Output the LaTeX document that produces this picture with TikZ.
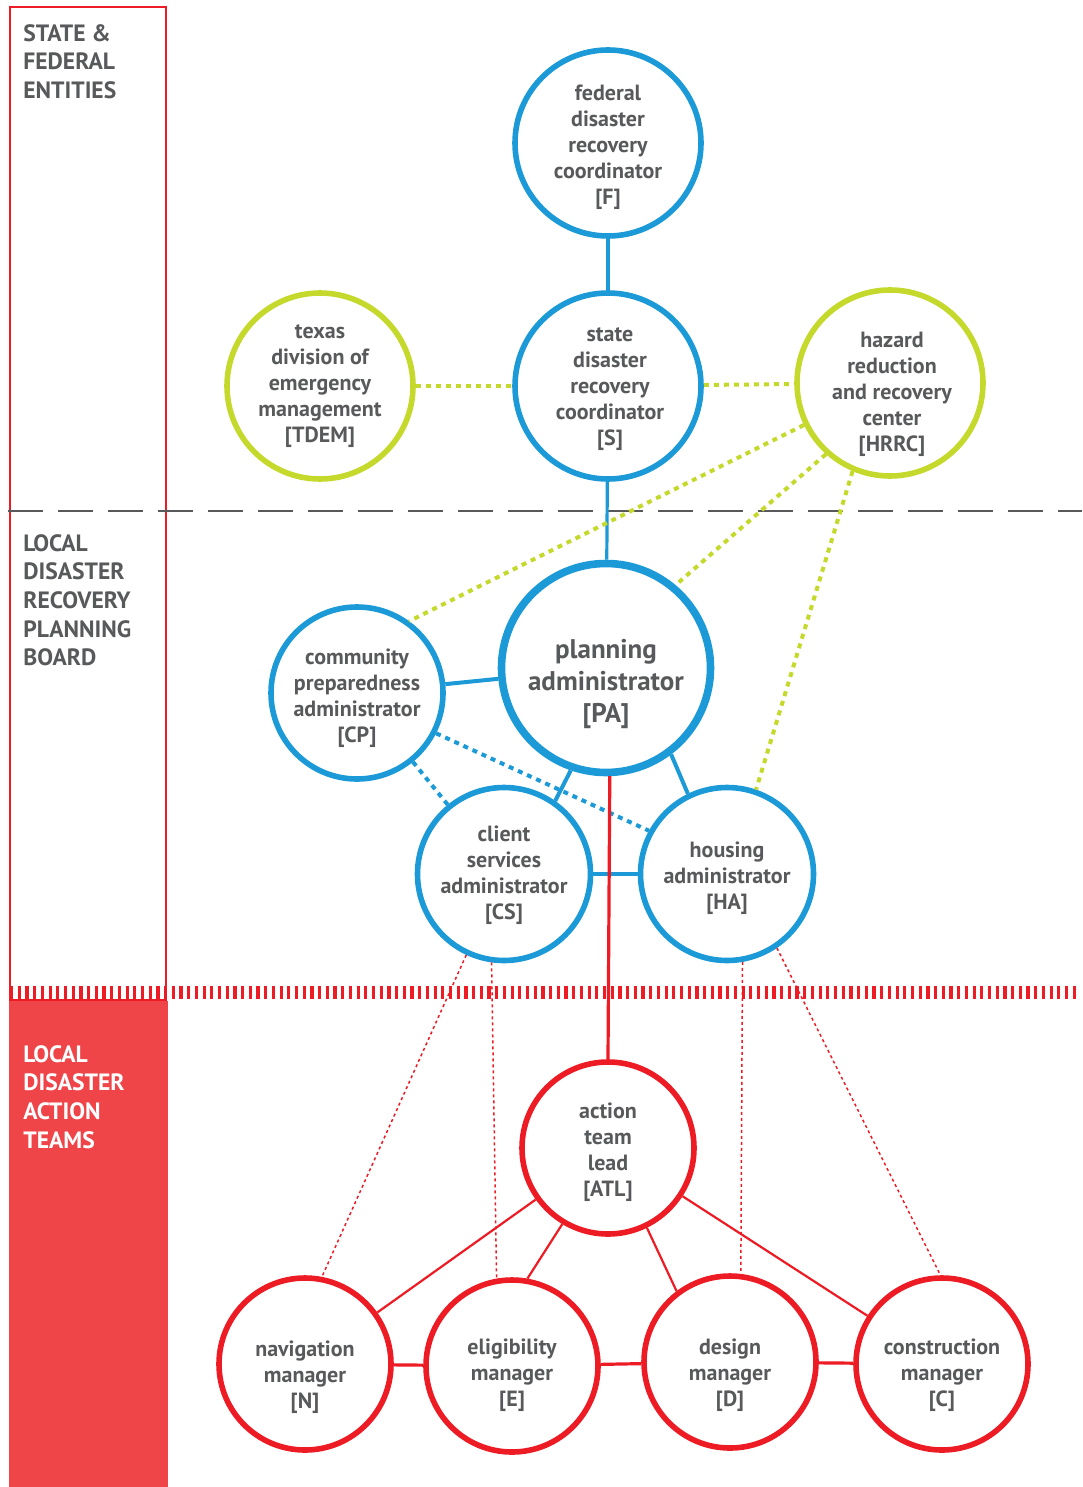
\documentclass[tikz,border=0pt]{standalone}
\usepackage{fontspec}
\newfontfamily\diagfont{PT Sans}
\definecolor{stateblue}{HTML}{1B9AD7}
\definecolor{hazardgreen}{HTML}{C5D92D}
\definecolor{teamred}{HTML}{ED1C24}
\definecolor{boxred}{HTML}{EF4549}
\definecolor{labelgray}{HTML}{58595B}
\begin{document}
\begin{tikzpicture}[x=0.5pt, y=-0.5pt,
  bluecircle/.style={circle, draw=stateblue, line width=2.8pt, inner sep=0pt, minimum size=93pt},
  greencircle/.style={circle, draw=hazardgreen, line width=2.8pt, inner sep=0pt, minimum size=93pt},
  boardcircle/.style={circle, draw=stateblue, line width=2.8pt, inner sep=0pt, minimum size=86.5pt},
  redcircle/.style={circle, draw=teamred, line width=2.8pt, inner sep=0pt, minimum size=86pt},
  roletext/.style={text=labelgray, align=center, inner sep=0pt, font=\diagfont\bfseries\fontsize{11}{13}\selectfont},
  sidelabel/.style={text=labelgray, align=left, inner sep=0pt, anchor=north west, font=\diagfont\bfseries\fontsize{11.8}{14.3}\selectfont},
  bluelink/.style={draw=stateblue, line width=2pt},
  bluedots/.style={draw=stateblue, line width=2pt, dash pattern=on 2.5pt off 2.5pt},
  greendots/.style={draw=hazardgreen, line width=2pt, dash pattern=on 2.5pt off 2.5pt},
  redlink/.style={draw=teamred, line width=1.6pt},
  redspoke/.style={draw=teamred, line width=1.1pt},
  reddots/.style={draw=teamred, line width=0.75pt, dash pattern=on 1.5pt off 1.5pt}]
\useasboundingbox (0,0) rectangle (1082,1487);

% Bands on the left and level dividers
\draw[teamred, line width=1pt] (10,7) rectangle (166,1000);
\fill[boxred] (9,1001) rectangle (168,1487);
\draw[labelgray, line width=0.6pt, dash pattern=on 17.5pt off 7.5pt] (8,511) -- (1082,511);
\draw[teamred, line width=6.5pt, dash pattern=on 1.6pt off 2.25pt] (10,992.5) -- (1080,992.5);

\node[sidelabel] (statelab) at (23,24) {STATE \&\\FEDERAL\\ENTITIES};
\node[sidelabel] (boardlab) at (23,534) {LOCAL\\DISASTER\\RECOVERY\\PLANNING\\BOARD};
\node[sidelabel, text=white] (teamlab) at (23,1045) {LOCAL\\DISASTER\\ACTION\\TEAMS};

% State and federal entities
\node[bluecircle] (F) at (608,143) {};
\node[roletext] (Ft) at (608,147) {federal\\disaster\\recovery\\coordinator\\{[F]}};
\node[bluecircle] (S) at (608,386) {};
\node[roletext] (St) at (610,389) {state\\disaster\\recovery\\coordinator\\{[S]}};
\node[greencircle] (TDEM) at (320,386) {};
\node[roletext] (TDEMt) at (320,386) {texas\\division of\\emergency\\management\\{[TDEM]}};
\node[greencircle] (HRRC) at (890,383) {};
\node[roletext] (HRRCt) at (892,394) {hazard\\reduction\\and recovery\\center\\{[HRRC]}};

% Local disaster recovery planning board
\node[circle, draw=stateblue, line width=3.8pt, inner sep=0pt, minimum size=104.5pt] (PA) at (606,668) {};
\node[roletext, font=\diagfont\bfseries\fontsize{13.5}{16}\selectfont] (PAt) at (606,684) {planning\\administrator\\{[PA]}};
\node[boardcircle, minimum size=86pt] (CP) at (357,693) {};
\node[roletext] (CPt) at (357,698) {community\\preparedness\\administrator\\{[CP]}};
\node[boardcircle] (CS) at (504,874) {};
\node[roletext] (CSt) at (504,875) {client\\services\\administrator\\{[CS]}};
\node[boardcircle] (HA) at (727,874) {};
\node[roletext] (HAt) at (727,878) {housing\\administrator\\{[HA]}};

% Local disaster action teams
\node[redcircle] (ATL) at (608,1148) {};
\node[roletext] (ATLt) at (608,1152) {action\\team\\lead\\{[ATL]}};
\node[redcircle] (N) at (305,1364) {};
\node[roletext] (Nt) at (305,1377) {navigation\\manager\\{[N]}};
\node[redcircle] (E) at (512,1366) {};
\node[roletext] (Et) at (512,1375) {eligibility\\manager\\{[E]}};
\node[redcircle] (D) at (730,1362) {};
\node[roletext] (Dt) at (730,1375) {design\\manager\\{[D]}};
\node[redcircle] (C) at (942,1364) {};
\node[roletext] (Ct) at (942,1375) {construction\\manager\\{[C]}};

% Connectors
\draw[bluelink] (F) -- (S);
\draw[bluelink, line width=1.6pt] (S) -- (PA);
\draw[greendots] (TDEM) -- (S);
\draw[greendots] (S) -- (HRRC);
\draw[greendots] (HRRC.-154) -- (CP.54);
\draw[greendots] (HRRC.-132) -- (PA.50);
\draw[greendots] (HRRC.-113) -- (HA.71);
\draw[bluelink] (CP) -- (PA);
\draw[bluelink] (PA.-109) -- (CS.55);
\draw[bluelink] (PA.-53) -- (HA.116);
\draw[bluelink] (CS) -- (HA);
\draw[bluedots] (CP) -- (CS);
\draw[bluedots] (CP.-27) -- (HA.151);
\draw[redlink] (PA.-88) -- (ATL.north);
\draw[redspoke] (ATL) -- (N);
\draw[redspoke] (ATL.-121) -- (E.80);
\draw[redspoke] (ATL.-64) -- (D.127);
\draw[redspoke] (ATL) -- (C);
\draw[redlink] (N) -- (E);
\draw[redlink] (E) -- (D);
\draw[redlink] (D) -- (C);
\draw[reddots] (CS.-115) -- (N.79);
\draw[reddots] (CS.-98) -- (E.100);
\draw[reddots] (HA.-80) -- (D.83);
\draw[reddots] (HA.-56) -- (C.91);
\end{tikzpicture}
\end{document}
